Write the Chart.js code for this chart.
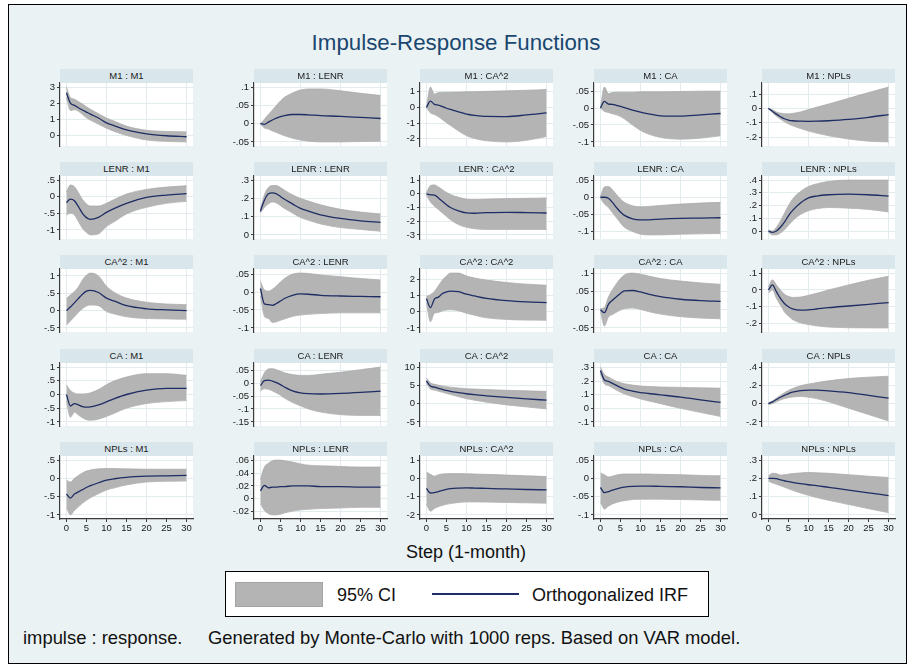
<!DOCTYPE html>
<html>
<head>
<meta charset="utf-8">
<title>Impulse-Response Functions</title>
<script src="https://cdn.jsdelivr.net/npm/chart.js@4.4.0/dist/chart.umd.min.js"></script>
<style>
  body { margin: 0; width: 915px; height: 671px; position: relative; overflow: hidden; background: #fff;
         font-family: "Liberation Sans", Arial, sans-serif; color: #111; }
  #frame { position: absolute; left: 8px; top: 4px; width: 897px; height: 658px; border: 1px solid #000; background: #eaf2f3; }
  .abs { position: absolute; }
  .head { position: absolute; height: 14px; line-height: 14px; font-size: 9.5px; text-align: center; background: #d9e6ec; color: #1a1a1a; z-index: 3; white-space: nowrap; }
  .cell { position: absolute; z-index: 2; }
  .cell .plotbg { position: absolute; background: #fff; }
  .cell canvas { position: absolute; left: 0; top: 0; }
  #title { left: 0; width: 912px; top: 30px; text-align: center; font-size: 22.3px; line-height: 26px; color: #1a476f; }
  #xtitle { left: 0; width: 932px; top: 541px; text-align: center; font-size: 18px; line-height: 22px; }
  #legend { left: 225px; top: 571px; width: 482px; height: 44px; border: 1px solid #000; background: #fff; }
  .note { top: 627px; font-size: 18.4px; line-height: 22px; white-space: nowrap; }
</style>
</head>
<body>
<div id="frame"></div>
<div id="title" class="abs">Impulse-Response Functions</div>
<div id="xtitle" class="abs">Step (1-month)</div>
<div id="legend" class="abs">
  <div class="abs" style="left:9px;top:10px;width:86px;height:23px;background:#b4b4b4;border:1px solid #a4a4a4"></div>
  <div class="abs" style="left:111px;top:12px;font-size:18px;line-height:22px">95% CI</div>
  <div class="abs" style="left:206px;top:21px;width:87px;height:2px;background:#1e2d64"></div>
  <div class="abs" style="left:306px;top:12px;font-size:18px;line-height:22px">Orthogonalized IRF</div>
</div>
<div class="abs note" style="left:23px">impulse : response.</div>
<div class="abs note" style="left:208px">Generated by Monte-Carlo with 1000 reps. Based on VAR model.</div>

<script>
/* ── data, steps on the x axis ── */
const VARS = ['M1', 'LENR', 'CA^2', 'CA', 'NPLs'];
const STEPS = [0, 1, 2, 3, 4, 5, 6, 8, 10, 12, 15, 20, 25, 30];
const X_TICKS = [0, 5, 10, 15, 20, 25, 30];

// panel order: impulse (row) x response (column)
const Y_TICKS = [
  [0, 1, 2, 3], [-0.05, 0, 0.05, 0.1], [-2, -1, 0, 1], [-0.1, -0.05, 0, 0.05], [-0.2, -0.1, 0, 0.1],
  [-1, -0.5, 0, 0.5], [0, 0.1, 0.2, 0.3], [-3, -2, -1, 0, 1], [-0.1, -0.05, 0, 0.05], [0, 0.1, 0.2, 0.3, 0.4],
  [-0.5, 0, 0.5, 1], [-0.1, -0.05, 0, 0.05], [-1, 0, 1, 2], [-0.05, 0, 0.05, 0.1], [-0.2, -0.1, 0, 0.1],
  [-1, -0.5, 0, 0.5, 1], [-0.15, -0.1, -0.05, 0, 0.05], [-5, 0, 5, 10], [-0.1, 0, 0.1, 0.2, 0.3], [-0.2, 0, 0.2, 0.4],
  [-1, -0.5, 0, 0.5], [-0.02, 0, 0.02, 0.04, 0.06], [-2, -1, 0, 1], [-0.1, -0.05, 0, 0.05], [0, 0.1, 0.2, 0.3],
];

const IRF = [
  [2.65, 2.0, 1.87, 1.72, 1.58, 1.45, 1.32, 1.08, 0.78, 0.6, 0.34, 0.1, -0.02, -0.08],
  [0, -0.002, 0.004, 0.01, 0.015, 0.019, 0.022, 0.025, 0.025, 0.024, 0.022, 0.02, 0.017, 0.014],
  [0, 0.4, 0.2, 0.15, 0.05, -0.05, -0.13, -0.28, -0.42, -0.5, -0.57, -0.58, -0.48, -0.35],
  [0, 0.02, 0.012, 0.011, 0.008, 0.005, 0.001, -0.006, -0.012, -0.017, -0.023, -0.024, -0.02, -0.016],
  [0, -0.02, -0.04, -0.058, -0.072, -0.081, -0.086, -0.089, -0.09, -0.089, -0.086, -0.077, -0.062, -0.043],

  [-0.18, -0.07, -0.12, -0.3, -0.5, -0.63, -0.68, -0.62, -0.47, -0.35, -0.2, -0.02, 0.05, 0.09],
  [0.13, 0.19, 0.225, 0.23, 0.225, 0.21, 0.195, 0.17, 0.145, 0.13, 0.11, 0.09, 0.077, 0.068],
  [0, -0.08, -0.1, -0.3, -0.55, -0.8, -1.0, -1.25, -1.4, -1.42, -1.38, -1.35, -1.37, -1.4],
  [0, 0, -0.003, -0.015, -0.03, -0.043, -0.053, -0.063, -0.066, -0.066, -0.064, -0.062, -0.061, -0.06],
  [0, -0.01, 0.0, 0.03, 0.07, 0.12, 0.16, 0.22, 0.26, 0.275, 0.285, 0.29, 0.285, 0.275],

  [0, 0.1, 0.22, 0.35, 0.47, 0.56, 0.58, 0.52, 0.36, 0.27, 0.14, 0.05, 0.02, 0.0],
  [0.01, -0.033, -0.035, -0.037, -0.032, -0.025, -0.018, -0.009, -0.005, -0.006, -0.009, -0.011, -0.012, -0.013],
  [0.82, 0.25, 0.78, 0.9, 1.12, 1.22, 1.27, 1.24, 1.08, 0.97, 0.82, 0.68, 0.6, 0.56],
  [0, -0.008, 0.015, 0.026, 0.036, 0.045, 0.052, 0.053, 0.049, 0.043, 0.036, 0.029, 0.025, 0.023],
  [0, 0.03, -0.01, -0.05, -0.08, -0.1, -0.112, -0.12, -0.118, -0.113, -0.105, -0.095, -0.085, -0.075],

  [0, -0.42, -0.33, -0.38, -0.44, -0.46, -0.45, -0.38, -0.27, -0.15, 0.0, 0.16, 0.22, 0.22],
  [-0.01, 0.01, 0.012, 0.008, 0.002, -0.006, -0.015, -0.03, -0.038, -0.041, -0.042, -0.04, -0.036, -0.031],
  [6.2, 4.8, 4.5, 4.2, 3.9, 3.6, 3.35, 3.0, 2.7, 2.45, 2.15, 1.7, 1.3, 0.95],
  [0.28, 0.21, 0.2, 0.185, 0.17, 0.155, 0.143, 0.128, 0.117, 0.11, 0.1, 0.083, 0.063, 0.044],
  [0, 0.02, 0.045, 0.07, 0.09, 0.11, 0.125, 0.142, 0.148, 0.148, 0.14, 0.12, 0.09, 0.06],

  [-0.43, -0.54, -0.43, -0.37, -0.31, -0.25, -0.2, -0.12, -0.05, -0.01, 0.03, 0.06, 0.07, 0.08],
  [0.012, 0.021, 0.017, 0.018, 0.018, 0.019, 0.019, 0.02, 0.02, 0.02, 0.019, 0.019, 0.018, 0.018],
  [-0.55, -0.8, -0.78, -0.72, -0.66, -0.6, -0.56, -0.53, -0.52, -0.53, -0.55, -0.58, -0.61, -0.63],
  [-0.025, -0.039, -0.036, -0.032, -0.029, -0.026, -0.024, -0.022, -0.021, -0.021, -0.022, -0.023, -0.025, -0.026],
  [0.2, 0.2, 0.198, 0.192, 0.187, 0.182, 0.178, 0.171, 0.165, 0.16, 0.151, 0.136, 0.121, 0.106],
];

const CI_LO = [
  [2.35, 1.55, 1.6, 1.5, 1.3, 1.1, 0.95, 0.7, 0.45, 0.25, 0.0, -0.28, -0.37, -0.4],
  [0, -0.012, -0.015, -0.02, -0.024, -0.029, -0.033, -0.04, -0.045, -0.048, -0.05, -0.05, -0.049, -0.048],
  [0, -0.35, -0.45, -0.6, -0.78, -0.97, -1.15, -1.5, -1.8, -1.98, -2.13, -2.2, -2.1, -1.85],
  [0, -0.01, -0.013, -0.017, -0.02, -0.025, -0.032, -0.05, -0.066, -0.077, -0.087, -0.092, -0.089, -0.082],
  [0, -0.03, -0.055, -0.075, -0.093, -0.108, -0.12, -0.14, -0.158, -0.172, -0.19, -0.213, -0.228, -0.233],

  [-0.55, -0.5, -0.55, -0.75, -0.95, -1.08, -1.15, -1.12, -0.9, -0.75, -0.52, -0.32, -0.2, -0.14],
  [0.12, 0.15, 0.17, 0.18, 0.175, 0.16, 0.145, 0.12, 0.095, 0.08, 0.06, 0.04, 0.03, 0.02],
  [-0.1, -0.6, -0.9, -1.15, -1.4, -1.65, -1.9, -2.25, -2.45, -2.55, -2.6, -2.6, -2.6, -2.6],
  [-0.003, -0.02, -0.03, -0.045, -0.06, -0.075, -0.088, -0.1, -0.108, -0.11, -0.11, -0.108, -0.107, -0.106],
  [-0.01, -0.03, -0.03, -0.015, 0.01, 0.045, 0.08, 0.13, 0.16, 0.175, 0.185, 0.18, 0.17, 0.15],

  [-0.42, -0.3, -0.18, -0.05, 0.05, 0.13, 0.16, 0.14, -0.03, -0.1, -0.18, -0.23, -0.24, -0.25],
  [-0.01, -0.068, -0.074, -0.085, -0.083, -0.079, -0.075, -0.068, -0.064, -0.062, -0.06, -0.058, -0.058, -0.058],
  [0.55, -0.62, -0.1, -0.05, 0.05, 0.1, 0.12, 0.06, -0.1, -0.22, -0.38, -0.48, -0.52, -0.53],
  [-0.004, -0.045, -0.02, -0.013, -0.007, -0.001, 0.003, 0.005, 0.001, -0.005, -0.012, -0.019, -0.023, -0.025],
  [-0.02, 0.0, -0.05, -0.09, -0.13, -0.155, -0.175, -0.195, -0.205, -0.213, -0.22, -0.224, -0.225, -0.225],

  [-0.25, -0.83, -0.65, -0.75, -0.85, -0.92, -0.94, -0.9, -0.8, -0.68, -0.5, -0.33, -0.26, -0.22],
  [-0.03, -0.022, -0.024, -0.03, -0.038, -0.047, -0.058, -0.075, -0.088, -0.1, -0.112, -0.122, -0.125, -0.125],
  [5.5, 4.0, 3.7, 3.4, 3.1, 2.8, 2.5, 1.9, 1.35, 0.95, 0.4, -0.35, -0.9, -1.45],
  [0.26, 0.18, 0.168, 0.152, 0.135, 0.12, 0.107, 0.087, 0.07, 0.055, 0.035, 0.0, -0.03, -0.06],
  [-0.01, 0.0, 0.02, 0.04, 0.055, 0.065, 0.072, 0.078, 0.07, 0.055, 0.02, -0.05, -0.12, -0.19],

  [-0.8, -1.0, -0.88, -0.78, -0.68, -0.6, -0.53, -0.42, -0.32, -0.26, -0.18, -0.1, -0.08, -0.07],
  [-0.008, -0.019, -0.024, -0.026, -0.026, -0.025, -0.023, -0.02, -0.018, -0.017, -0.016, -0.015, -0.014, -0.014],
  [-1.42, -1.8, -1.65, -1.55, -1.48, -1.42, -1.38, -1.32, -1.29, -1.29, -1.3, -1.32, -1.34, -1.36],
  [-0.065, -0.084, -0.076, -0.07, -0.066, -0.063, -0.061, -0.058, -0.057, -0.057, -0.057, -0.058, -0.059, -0.06],
  [0.185, 0.175, 0.168, 0.16, 0.152, 0.143, 0.135, 0.12, 0.107, 0.095, 0.08, 0.057, 0.034, 0.012],
];

const CI_HI = [
  [3.0, 2.35, 2.25, 2.1, 1.95, 1.78, 1.62, 1.35, 1.08, 0.88, 0.58, 0.32, 0.25, 0.22],
  [0, 0.012, 0.025, 0.037, 0.05, 0.062, 0.072, 0.084, 0.092, 0.095, 0.095, 0.09, 0.083, 0.077],
  [0, 1.3, 0.85, 0.95, 0.96, 0.97, 0.97, 0.98, 1.0, 1.01, 1.03, 1.06, 1.1, 1.15],
  [0, 0.062, 0.043, 0.046, 0.047, 0.047, 0.047, 0.047, 0.048, 0.048, 0.048, 0.049, 0.05, 0.05],
  [0, -0.01, -0.025, -0.033, -0.037, -0.038, -0.035, -0.025, -0.008, 0.008, 0.03, 0.07, 0.11, 0.148],

  [0.15, 0.35, 0.3, 0.12, -0.08, -0.22, -0.28, -0.28, -0.2, -0.08, 0.08, 0.22, 0.29, 0.33],
  [0.14, 0.22, 0.26, 0.27, 0.27, 0.26, 0.245, 0.22, 0.2, 0.185, 0.165, 0.14, 0.125, 0.115],
  [0.05, 0.6, 0.65, 0.5, 0.3, 0.1, -0.05, -0.25, -0.38, -0.4, -0.38, -0.35, -0.33, -0.3],
  [0.002, 0.03, 0.031, 0.022, 0.008, -0.005, -0.015, -0.025, -0.028, -0.027, -0.024, -0.02, -0.017, -0.015],
  [0.01, 0.0, 0.03, 0.08, 0.14, 0.2, 0.25, 0.31, 0.35, 0.37, 0.39, 0.4, 0.4, 0.4],

  [0.35, 0.45, 0.55, 0.68, 0.88, 1.02, 1.08, 1.0, 0.7, 0.52, 0.36, 0.24, 0.19, 0.17],
  [0.03, 0.006, 0.003, 0.008, 0.017, 0.028, 0.038, 0.05, 0.053, 0.052, 0.048, 0.043, 0.038, 0.034],
  [0.95, 1.05, 1.25, 1.6, 1.95, 2.2, 2.38, 2.38, 2.2, 2.08, 1.95, 1.8, 1.7, 1.63],
  [0.003, 0.006, 0.035, 0.055, 0.072, 0.086, 0.096, 0.101, 0.098, 0.093, 0.086, 0.079, 0.074, 0.07],
  [0.02, 0.06, 0.03, 0.0, -0.025, -0.038, -0.044, -0.042, -0.032, -0.02, 0.0, 0.03, 0.058, 0.082],

  [0.35, 0.15, 0.05, 0.02, 0.02, 0.03, 0.06, 0.18, 0.36, 0.5, 0.64, 0.76, 0.76, 0.7],
  [0.005, 0.04, 0.055, 0.056, 0.052, 0.046, 0.04, 0.033, 0.03, 0.03, 0.034, 0.042, 0.052, 0.062],
  [7.0, 5.7, 5.3, 5.05, 4.85, 4.65, 4.5, 4.3, 4.1, 4.0, 3.85, 3.65, 3.5, 3.35],
  [0.305, 0.25, 0.232, 0.215, 0.2, 0.19, 0.182, 0.172, 0.165, 0.162, 0.158, 0.155, 0.152, 0.149],
  [0.01, 0.03, 0.06, 0.09, 0.12, 0.145, 0.165, 0.195, 0.215, 0.23, 0.25, 0.275, 0.29, 0.3],

  [-0.05, -0.1, 0.0, 0.08, 0.15, 0.2, 0.23, 0.26, 0.27, 0.27, 0.26, 0.25, 0.25, 0.25],
  [0.03, 0.05, 0.056, 0.06, 0.061, 0.061, 0.06, 0.058, 0.055, 0.053, 0.052, 0.051, 0.05, 0.05],
  [0.35, 0.22, 0.12, 0.2, 0.24, 0.25, 0.26, 0.26, 0.25, 0.24, 0.22, 0.18, 0.14, 0.1],
  [0.015, 0.01, 0.004, 0.006, 0.009, 0.011, 0.012, 0.012, 0.012, 0.012, 0.011, 0.01, 0.008, 0.007],
  [0.215, 0.228, 0.226, 0.218, 0.22, 0.223, 0.226, 0.23, 0.232, 0.231, 0.228, 0.22, 0.212, 0.205],
];

/* ── layout & style ── */
const COL_LEFT = [60, 254, 420, 594, 762];
const ROW_TOP = [69, 162, 255, 349, 442];
const HEAD_H = 14;
const PLOT_W = 133;
const PLOT_H = 63;
const AXW = 34;      // room for the y labels
const PAD = 6;       // spare canvas above / below the plot
const XAX_H = 20;    // bottom row x axis

const COLORS = {
  band: '#b4b4b4',
  bandEdge: '#a6a6a6',
  line: '#1e2d64',
  grid: '#e2ecef',
  axis: '#3a3a3a',
  text: '#1a1a1a',
};
const TICK_FONT = { family: "'Liberation Sans', Arial, sans-serif", size: 9.5 };

function stataFmt(v) {
  return String(v).replace(/^(-?)0\./, '$1.');
}

function pts(arr) {
  return STEPS.map((s, i) => ({ x: s, y: arr[i] }));
}

function makePanel(r, c) {
  const k = r * 5 + c;
  const bottom = r === 4;
  const yt = Y_TICKS[k];
  let lo = Math.min(...CI_LO[k], ...IRF[k], ...yt);
  let hi = Math.max(...CI_HI[k], ...IRF[k], ...yt);
  const pad = (hi - lo) * 0.075;
  lo -= pad; hi += pad;

  const head = document.createElement('div');
  head.className = 'head';
  head.style.left = COL_LEFT[c] + 'px';
  head.style.top = ROW_TOP[r] + 'px';
  head.style.width = PLOT_W + 'px';
  head.textContent = VARS[r] + ' : ' + VARS[c];
  document.body.appendChild(head);

  const w = AXW + PLOT_W + 8;
  const h = PAD + PLOT_H + (bottom ? XAX_H : PAD);
  const cell = document.createElement('div');
  cell.className = 'cell';
  cell.style.left = (COL_LEFT[c] - AXW) + 'px';
  cell.style.top = (ROW_TOP[r] + HEAD_H - PAD) + 'px';
  cell.style.width = w + 'px';
  cell.style.height = h + 'px';
  const bg = document.createElement('div');
  bg.className = 'plotbg';
  bg.style.left = AXW + 'px';
  bg.style.top = PAD + 'px';
  bg.style.width = PLOT_W + 'px';
  bg.style.height = PLOT_H + 'px';
  cell.appendChild(bg);
  const cv = document.createElement('canvas');
  cv.width = w; cv.height = h;
  cell.appendChild(cv);
  document.body.appendChild(cell);

  new Chart(cv, {
    type: 'line',
    data: {
      datasets: [
        { data: pts(IRF[k]), borderColor: COLORS.line, borderWidth: 1.3, fill: false },
        { data: pts(CI_HI[k]), borderColor: COLORS.bandEdge, borderWidth: 0.7, backgroundColor: COLORS.band, fill: '+1' },
        { data: pts(CI_LO[k]), borderColor: COLORS.bandEdge, borderWidth: 0.7, fill: false },
      ],
    },
    options: {
      responsive: false,
      animation: false,
      events: [],
      layout: { padding: { top: PAD, bottom: bottom ? 0 : PAD, left: 0, right: 8 } },
      elements: { point: { radius: 0 }, line: { cubicInterpolationMode: 'monotone' } },
      plugins: { legend: { display: false }, tooltip: { enabled: false } },
      scales: {
        x: {
          type: 'linear', min: -1.6, max: 31.6,
          afterBuildTicks: ax => { ax.ticks = X_TICKS.map(v => ({ value: v })); },
          afterFit: ax => { ax.height = bottom ? XAX_H : 0; ax.paddingLeft = 0; ax.paddingRight = 0; },
          ticks: { display: bottom, font: TICK_FONT, color: COLORS.text, padding: 1, maxRotation: 0, autoSkip: false },
          grid: {
            color: ctx => (ctx.tick && ctx.tick.value % 10 === 0) ? COLORS.grid : 'rgba(0,0,0,0)',
            drawTicks: bottom, tickLength: 3, tickColor: COLORS.axis,
          },
          border: { display: bottom, color: COLORS.axis, width: 1.2 },
        },
        y: {
          type: 'linear', min: lo, max: hi,
          afterBuildTicks: ax => { ax.ticks = yt.map(v => ({ value: v })); },
          afterFit: ax => { ax.width = AXW; ax.paddingTop = 0; ax.paddingBottom = 0; },
          ticks: { font: TICK_FONT, color: COLORS.text, padding: 2, autoSkip: false, callback: v => stataFmt(v) },
          grid: { color: COLORS.grid, tickLength: 3, tickColor: COLORS.axis },
          border: { color: COLORS.axis, width: 1.2 },
        },
      },
    },
  });
}

for (let r = 0; r < 5; r++) {
  for (let c = 0; c < 5; c++) makePanel(r, c);
}
</script>
</body>
</html>
